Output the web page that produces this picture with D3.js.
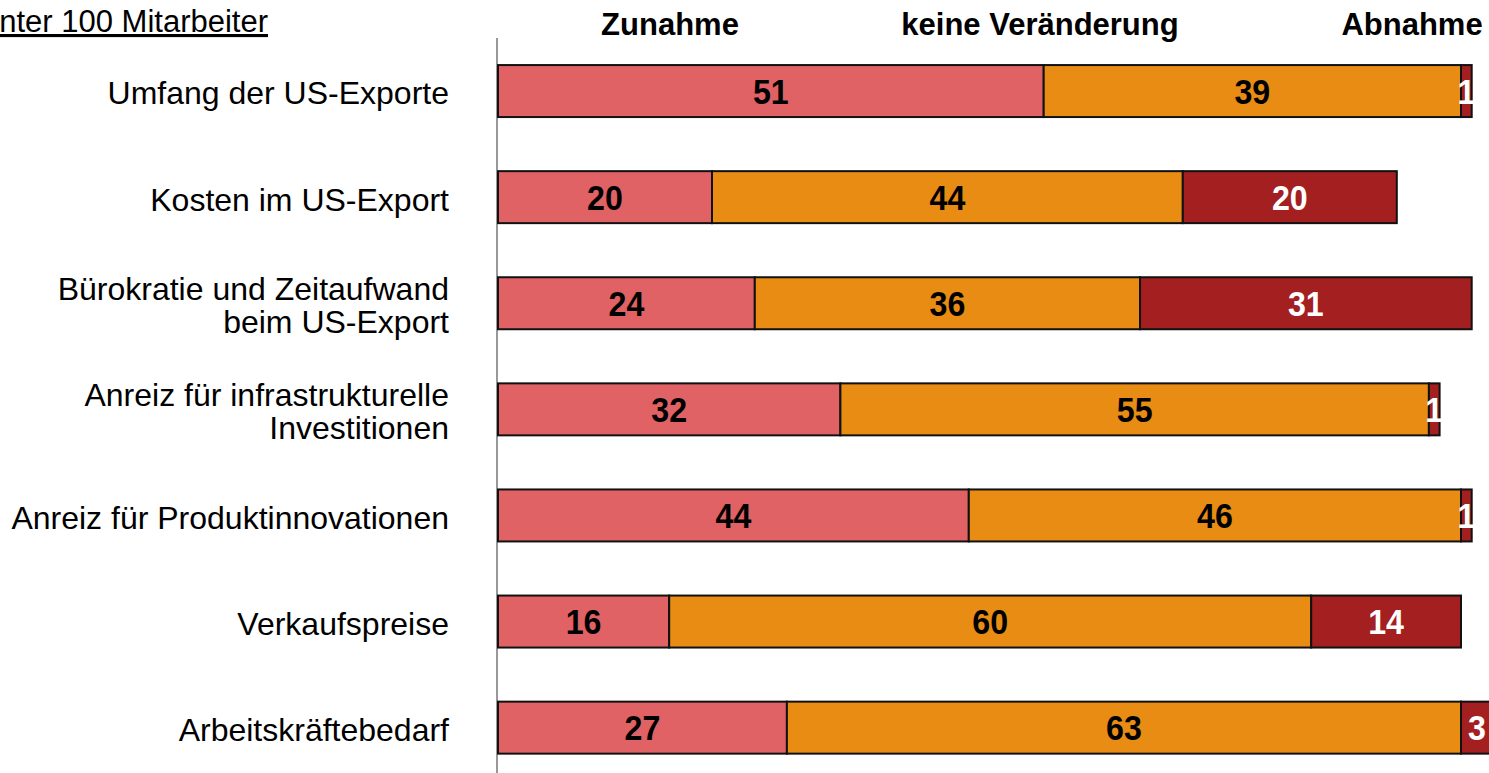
<!DOCTYPE html>
<html>
<head>
<meta charset="utf-8">
<script src="https://cdn.jsdelivr.net/npm/d3@7/dist/d3.min.js"></script>
<style>
  body { margin: 0; background: #fff; }
  svg { display: block; }
</style>
</head>
<body>
<script>
// data (percent)
const categories = [
  ['Umfang der US-Exporte'],
  ['Kosten im US-Export'],
  ['Bürokratie und Zeitaufwand', 'beim US-Export'],
  ['Anreiz für infrastrukturelle', 'Investitionen'],
  ['Anreiz für Produktinnovationen'],
  ['Verkaufspreise'],
  ['Arbeitskräftebedarf']
];
const seriesNames = ['Zunahme', 'keine Veränderung', 'Abnahme'];
const zunahme = [51, 20, 24, 32, 44, 16, 27];
const keineVeraenderung = [39, 44, 36, 55, 46, 60, 63];
const abnahme = [1, 20, 31, 1, 1, 14, 3];
const subtitle = 'Unter 100 Mitarbeiter';

const colors = ['#e06264', '#e88c14', '#a31f20'];
const labelColors = ['#000', '#000', '#fff'];

const width = 1489, height = 773;
const font = '"Liberation Sans", Arial, sans-serif';

const svg = d3.select('body').append('svg')
    .attr('width', width)
    .attr('height', height);

const rows = categories.map((c, i) => ({
    key: c.join(' '),
    lines: c,
    values: [zunahme[i], keineVeraenderung[i], abnahme[i]]
}));

const x = d3.scaleLinear().domain([0, 100]).range([498, 1568]);
const y = d3.scaleBand()
    .domain(rows.map(d => d.key))
    .range([38, 780.7])
    .paddingInner(0.51)
    .paddingOuter(0.255);

// vertical axis line
svg.append('line')
    .attr('x1', x(0) - 1).attr('x2', x(0) - 1)
    .attr('y1', 38).attr('y2', height)
    .attr('stroke', '#333')
    .attr('stroke-width', 1);

// stacked segments
const segs = [];
rows.forEach(r => {
    let acc = 0;
    r.values.forEach((v, k) => {
        segs.push({ row: r.key, k: k, v: v, x0: acc, x1: acc + v });
        acc += v;
    });
});

svg.append('g')
    .selectAll('rect')
    .data(segs)
    .enter().append('rect')
    .attr('x', d => x(d.x0))
    .attr('y', d => y(d.row))
    .attr('width', d => x(d.x1) - x(d.x0))
    .attr('height', y.bandwidth())
    .attr('fill', d => colors[d.k])
    .attr('stroke', '#111')
    .attr('stroke-width', 2);

// value labels (slightly condensed, like the original)
svg.append('g')
    .selectAll('text')
    .data(segs)
    .enter().append('text')
    .attr('transform', d => `translate(${(x(d.x0) + x(d.x1)) / 2},${y(d.row) + y.bandwidth() / 2}) scale(0.92,1)`)
    .attr('dy', '0.36em')
    .attr('text-anchor', 'middle')
    .style('font-family', font)
    .style('font-weight', 'bold')
    .style('font-size', '35px')
    .attr('fill', d => labelColors[d.k])
    .text(d => d.v);

// category labels
const cat = svg.append('g')
    .selectAll('text')
    .data(rows)
    .enter().append('text')
    .attr('text-anchor', 'end')
    .style('font-family', font)
    .style('font-size', '32px')
    .attr('fill', '#000')
    .attr('y', d => y(d.key) + y.bandwidth() / 2);

cat.each(function(d) {
    const n = d.lines.length;
    d.lines.forEach((line, i) => {
        d3.select(this).append('tspan')
            .attr('x', 449)
            .attr('dy', i === 0 ? `${0.42 - (n - 1) * 0.52}em` : '1.04em')
            .text(line);
    });
});

// series headers
const headerX = [670, 1040, 1412];
svg.append('g')
    .selectAll('text')
    .data(seriesNames)
    .enter().append('text')
    .attr('x', (d, i) => headerX[i])
    .attr('y', 35)
    .attr('text-anchor', 'middle')
    .style('font-family', font)
    .style('font-weight', 'bold')
    .style('font-size', '31px')
    .text(d => d);

// subtitle, underlined, runs off the left edge as in the original
svg.append('text')
    .attr('x', 268)
    .attr('y', 32)
    .attr('text-anchor', 'end')
    .style('font-family', font)
    .style('font-size', '31px')
    .style('text-decoration', 'underline')
    .text(subtitle);
</script>
</body>
</html>
